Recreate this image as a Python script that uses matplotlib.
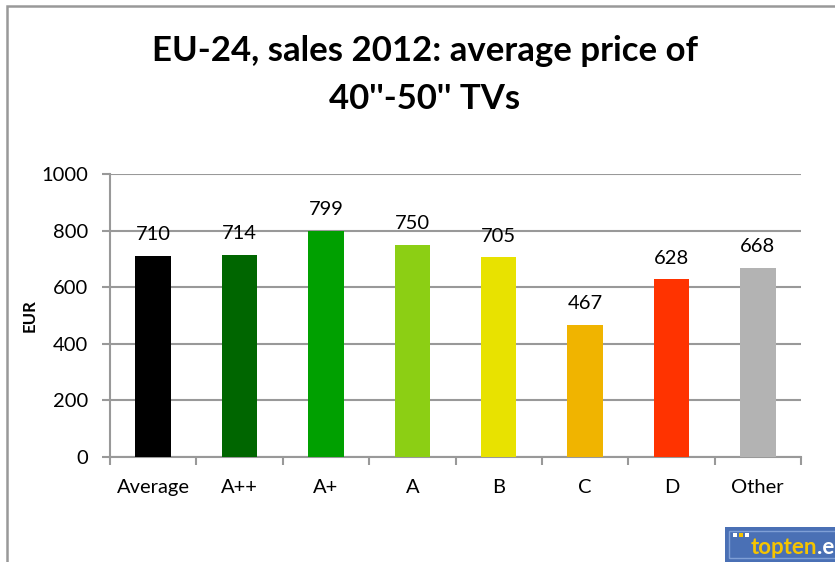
import numpy as np
import matplotlib.pyplot as plt
from matplotlib.patches import Rectangle

plt.rcParams['font.family'] = ['Lato', 'DejaVu Sans']

categories = ['Average', 'A++', 'A+', 'A', 'B', 'C', 'D', 'Other']
prices = [710, 714, 799, 750, 705, 467, 628, 668]
colors = ['#000000', '#006600', '#00a000', '#8ccf14', '#e8e200', '#f0b400', '#ff3300', '#b3b3b3']
yticks = [0, 200, 400, 600, 800, 1000]

fig = plt.figure(figsize=(8.35, 5.62), dpi=100)

# outer frame
fig.patches.append(Rectangle((7 / 835, -0.05), 1.1, 1 - 6 / 562 + 0.05, transform=fig.transFigure,
                             fill=False, edgecolor='#999999', linewidth=1.8))

ax = fig.add_axes([110 / 835, 1 - 457 / 562, (801 - 110) / 835, (457 - 174) / 562])
x = np.arange(len(categories))
bars = ax.bar(x, prices, width=0.41, color=colors, zorder=3)
for xi, v in zip(x, prices):
    ax.text(xi, v + 45, str(v), ha='center', va='bottom', fontsize=14.5)

ax.set_xlim(-0.5, len(categories) - 0.5)
ax.set_ylim(0, 1000)
ax.set_yticks(yticks)
ax.tick_params(axis='y', labelsize=14.5, length=6, color='#999999', width=1.5, pad=10)
ax.set_xticks(x)
ax.set_xticklabels(categories, fontsize=14.5)
ax.tick_params(axis='x', length=0, pad=16)
ax.set_xticks(np.arange(len(categories) + 1) - 0.5, minor=True)
ax.tick_params(axis='x', which='minor', length=6, color='#999999', width=1.5)
ax.grid(axis='y', color='#999999', linewidth=1.5, zorder=0)
for s in ['top', 'right']:
    ax.spines[s].set_visible(False)
for s in ['left', 'bottom']:
    ax.spines[s].set_color('#999999')
    ax.spines[s].set_linewidth(1.5)
ax.set_ylabel('EUR', fontsize=12, fontweight='bold')
ax.yaxis.set_label_coords(-0.105, 0.5)

fig.text(425 / 835, 1 - 75 / 562, "EU-24, sales 2012: average price of\n40''-50'' TVs",
         ha='center', va='center', fontsize=25, fontweight='bold', linespacing=1.6)

# logo
fig.patches.append(Rectangle((725 / 835, 0), 0.2, 35 / 562, transform=fig.transFigure,
                             facecolor='#4a70b5', edgecolor='none'))
fig.patches.append(Rectangle((729 / 835, 4 / 562), 0.2, 27 / 562, transform=fig.transFigure,
                             fill=False, edgecolor='#7f9fd6', linewidth=1))
for i, c in enumerate(['white', '#f5c400', 'white']):
    fig.patches.append(Rectangle(((733 + i * 6) / 835, 25 / 562), 4 / 835, 4 / 562,
                                 transform=fig.transFigure, facecolor=c, edgecolor='none'))
logo = fig.text(751 / 835, 15 / 562, 'topten', color='#f5c400', fontsize=16, fontweight='bold',
                ha='left', va='center')
fig.canvas.draw()
ext = logo.get_window_extent()
fig.text(ext.x1 / 835, 15 / 562, '.eu', color='white', fontsize=16, fontweight='bold',
         ha='left', va='center')

fig.savefig('out.png', dpi=100)
